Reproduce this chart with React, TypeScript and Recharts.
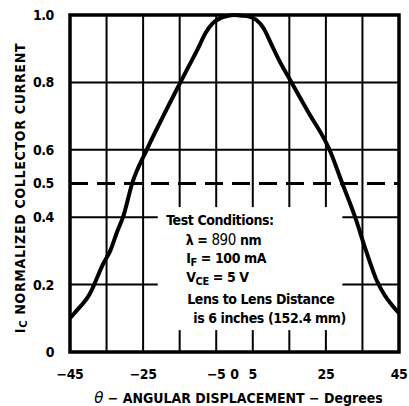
import React from "react";
import {
  LineChart,
  Line,
  XAxis,
  YAxis,
  CartesianGrid,
  ReferenceLine,
  ReferenceArea,
  Label,
} from "recharts";

// Angular displacement (degrees) and normalized collector current
const angles = [-45, -43, -41, -40, -39, -38, -36, -34, -32, -30.5, -28, -24, -19.5, -14.8, -12.9, -10, -8, -6, -4, -2, 0, 2, 4, 6, 8, 10, 12, 15.6, 20, 26, 29.5, 33, 36, 39, 41, 43, 45];
const current = [0.1, 0.125, 0.15, 0.165, 0.185, 0.21, 0.26, 0.3, 0.36, 0.4, 0.5, 0.6, 0.7, 0.8, 0.84, 0.9, 0.945, 0.975, 0.99, 0.997, 1.0, 0.998, 0.995, 0.985, 0.96, 0.915, 0.87, 0.8, 0.715, 0.6, 0.5, 0.4, 0.3, 0.21, 0.17, 0.14, 0.115];

const xTicks = [-45, -25, -5, 0, 5, 25, 45];
const yTicks = [0, 0.2, 0.4, 0.5, 0.6, 0.8, 1.0];
const xGrid = [-35, -25, -15, -5, 5, 15, 25, 35];
const yGrid = [0.2, 0.4, 0.6, 0.8];
const halfLevel = 0.5;
const xDomain: [number, number] = [-45, 45];
const yDomain: [number, number] = [0, 1];
// Region of the test-conditions note (data coords)
const noteX: [number, number] = [-21, 29.5];
const noteY: [number, number] = [0.065, 0.43];

const data = angles.map((a, i) => ({ x: a, y: current[i] }));

const F = "'Liberation Sans Narrow', 'DejaVu Sans Condensed', 'Arial Narrow', sans-serif";

const NoteShape = (props: any) => {
  const { x, y, width, height } = props;
  const t = { fontFamily: F, fontWeight: 700, fontSize: 14, fill: "#000", letterSpacing: -0.4 } as any;
  return (
    <g>
      <rect x={x} y={y} width={width} height={height} fill="#fff" stroke="none" />
      <text x={x + 8.5} y={y + 18} {...t}>Test Conditions:</text>
      <text x={x + 28} y={y + 38} {...t}>
        λ = <tspan fontWeight={400} fontSize={15}>890</tspan> nm
      </text>
      <text x={x + 28.5} y={y + 56} {...t}>
        I<tspan fontSize={11} dy={3}>F</tspan>
        <tspan dy={-3}> = 100 mA</tspan>
      </text>
      <text x={x + 28.5} y={y + 75} {...t}>
        V<tspan fontSize={11} dy={3}>CE</tspan>
        <tspan dy={-3}> = 5 V</tspan>
      </text>
      <text x={x + 29.5} y={y + 97} {...t}>Lens to Lens Distance</text>
      <text x={x + 35.5} y={y + 116} {...t}>is 6 inches (152.4 mm)</text>
    </g>
  );
};

const XTitle = (props: any) => {
  const vb = props.viewBox || {};
  const cx = (vb.x ?? 62) + (vb.width ?? 329) / 2 + 4;
  const cy = (vb.y ?? 344) + 51;
  return (
    <text x={cx} y={cy} textAnchor="middle" fontFamily={F} fontWeight={700} fontSize={14} fill="#000">
      <tspan fontStyle="italic" fontWeight={400} fontFamily="'DejaVu Sans', sans-serif" fontSize={15}>θ</tspan>
      <tspan> − ANGULAR DISPLACEMENT − Degrees</tspan>
    </text>
  );
};

const YTitle = () => {
  const cx = 13;
  const cy = 180;
  return (
    <text
      x={cx}
      y={cy}
      transform={`rotate(-90 ${cx} ${cy})`}
      textAnchor="middle"
      dominantBaseline="middle"
      fontFamily={F}
      fontWeight={700}
      fontSize={14}
      letterSpacing={0.7}
      fill="#000"
    >
      I<tspan fontSize={11} dy={3}>C</tspan>
      <tspan dy={-3}> NORMALIZED COLLECTOR CURRENT</tspan>
    </text>
  );
};

const tickStyle = { fontFamily: F, fontWeight: 700, fontSize: 14, fill: "#000", letterSpacing: -0.4 };

export default function App() {
  return (
    <div style={{ width: 401, height: 398, padding: "8px 0 0 8px", background: "#fff" }}>
      <style>{`body{margin:0}.recharts-surface{overflow:visible}`}</style>
      <LineChart
        width={401}
        height={398}
        data={data}
        margin={{ top: 7, right: 10, bottom: 0, left: 0 }}
      >
        <CartesianGrid
          stroke="#000"
          strokeWidth={2}
          verticalCoordinatesGenerator={({ xAxis, offset }: any) =>
            xGrid.map((v) =>
              xAxis && typeof xAxis.scale === "function"
                ? xAxis.scale(v)
                : offset.left + ((v - xDomain[0]) / (xDomain[1] - xDomain[0])) * offset.width
            )
          }
          horizontalCoordinatesGenerator={({ yAxis, offset }: any) =>
            yGrid.map((v) =>
              yAxis && typeof yAxis.scale === "function"
                ? yAxis.scale(v)
                : offset.top + (1 - (v - yDomain[0]) / (yDomain[1] - yDomain[0])) * offset.height
            )
          }
        />
        <XAxis
          dataKey="x"
          type="number"
          domain={xDomain}
          ticks={xTicks}
          interval={0}
          height={54}
          tickLine={false}
          axisLine={false}
          tickSize={0}
          tickMargin={17}
          tick={tickStyle}
          tickFormatter={(v: number) => (v < 0 ? `−${Math.abs(v)}` : `${v}`)}
        >
          <Label content={<XTitle />} />
        </XAxis>
        <YAxis
          type="number"
          domain={yDomain}
          ticks={yTicks}
          interval={0}
          width={62}
          tickLine={false}
          axisLine={false}
          tickSize={0}
          tickMargin={16}
          tick={tickStyle}
          tickFormatter={(v: number) => (v === 0 ? "0" : v.toFixed(1))}
        >
          <Label content={<YTitle />} />
        </YAxis>
        <ReferenceArea
          x1={noteX[0]}
          x2={noteX[1]}
          y1={noteY[0]}
          y2={noteY[1]}
          shape={<NoteShape />}
          ifOverflow="visible"
        />
        <ReferenceLine y={halfLevel} stroke="#000" strokeWidth={3} strokeDasharray="18 9" />
        <ReferenceArea
          x1={xDomain[0]}
          x2={xDomain[1]}
          y1={yDomain[0]}
          y2={yDomain[1]}
          fill="none"
          fillOpacity={0}
          stroke="#000"
          strokeWidth={3.5}
          ifOverflow="visible"
        />
        <Line
          type="monotone"
          dataKey="y"
          stroke="#000"
          strokeWidth={4}
          dot={false}
          activeDot={false}
          isAnimationActive={false}
        />
      </LineChart>
    </div>
  );
}
